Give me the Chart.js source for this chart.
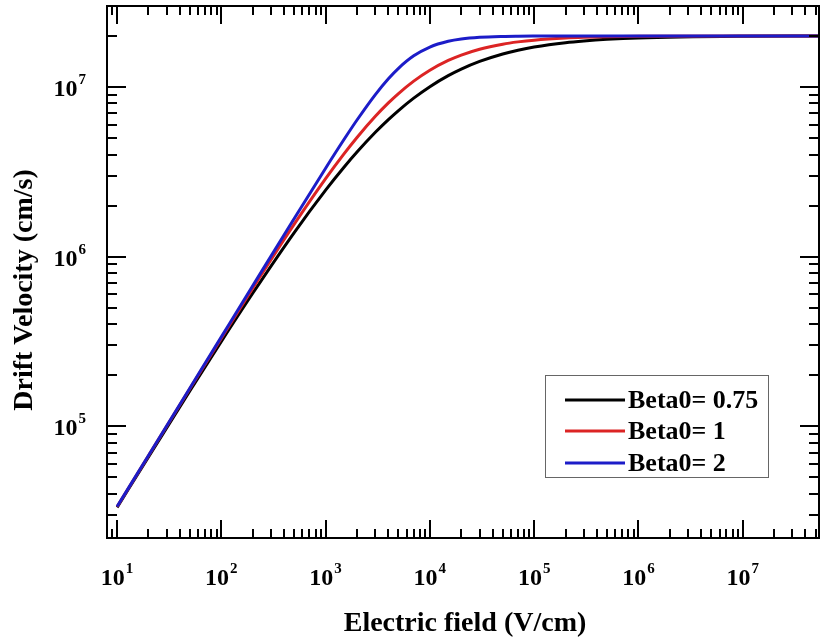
<!DOCTYPE html>
<html>
<head>
<meta charset="utf-8">
<script src="https://cdn.jsdelivr.net/npm/chart.js@4.4.0/dist/chart.umd.min.js"></script>
<style>
  html, body { margin: 0; padding: 0; background: #fff; }
</style>
</head>
<body>
<canvas id="driftChart" width="827" height="641"></canvas>
<script>
  // Electric field (V/cm) and drift velocity (cm/s)
  const fieldValues = [10, 20, 50, 100, 200, 500, 1000, 1500, 2000, 3000, 4000, 5000, 7000,
    1e4, 1.5e4, 2e4, 3e4, 5e4, 7e4, 1e5, 2e5, 3e5, 5e5, 1e6, 1e7, 5.5e7];
  const velocityBeta075 = [33330, 66160, 162450, 317080, 609280, 1.388e6, 2.468e6, 3.366e6, 4.136e6,
    5.405e6, 6.422e6, 7.265e6, 8.598e6, 1.0045e7, 1.1659e7, 1.2745e7, 1.4144e7, 1.5645e7, 1.6463e7,
    1.719e7, 1.8243e7, 1.8675e7, 1.9081e7, 1.9441e7, 1.9898e7, 1.9972e7];
  const velocityBeta1 = [33640, 67170, 167090, 331420, 652030, 1.554e6, 2.884e6, 4.035e6, 5.041e6,
    6.715e6, 8.052e6, 9.145e6, 1.0824e7, 1.2551e7, 1.433e7, 1.5423e7, 1.6697e7, 1.7878e7, 1.8437e7,
    1.888e7, 1.9424e7, 1.9612e7, 1.9765e7, 1.9882e7, 1.9988e7, 1.9998e7];
  const velocityBeta2 = [33700, 67400, 168490, 336950, 673620, 1.679e6, 3.323e6, 4.901e6, 6.387e6,
    9.023e6, 1.1178e7, 1.2886e7, 1.5255e7, 1.7199e7, 1.8597e7, 1.9174e7, 1.962e7, 1.9861e7, 1.9929e7,
    1.9966e7, 1.9991e7, 1.9996e7, 1.9999e7, 2e7, 2e7, 2e7];

  const seriesLabels = ['Beta0= 0.75', 'Beta0= 1', 'Beta0= 2'];
  const seriesColors = ['#000000', '#dc2424', '#1c1cc8'];
  const xExponents = [1, 2, 3, 4, 5, 6, 7];
  const yExponents = [5, 6, 7];
  const xTitle = 'Electric field (V/cm)';
  const yTitle = 'Drift Velocity (cm/s)';

  const FONT = '"Liberation Serif", "Times New Roman", serif';

  function toPoints(ys) {
    return fieldValues.map((x, i) => ({ x: x, y: ys[i] }));
  }

  // minor tick values for a log axis between min and max
  function logTicks(min, max) {
    const out = [];
    for (let e = Math.floor(Math.log10(min)); e <= Math.ceil(Math.log10(max)); e++) {
      for (let m = 1; m <= 9; m++) {
        const v = m * Math.pow(10, e);
        if (v >= min && v <= max) out.push({ v: v, major: m === 1 });
      }
    }
    return out;
  }

  function drawPower(ctx, exp, x, y, align) {
    ctx.font = 'bold 24px ' + FONT;
    const wBase = ctx.measureText('10').width;
    ctx.font = 'bold 15px ' + FONT;
    const wExp = ctx.measureText(String(exp)).width + 1;
    const total = wBase + wExp;
    let left = align === 'right' ? x - total : x - total / 2;
    ctx.textAlign = 'left';
    ctx.textBaseline = 'alphabetic';
    ctx.font = 'bold 24px ' + FONT;
    ctx.fillText('10', left, y);
    ctx.font = 'bold 15px ' + FONT;
    ctx.fillText(String(exp), left + wBase + 1, y - 12);
  }

  const framePlugin = {
    id: 'frame',
    afterDraw(chart) {
      const ctx = chart.ctx;
      const a = chart.chartArea;
      const xs = chart.scales.x, ys = chart.scales.y;
      ctx.save();
      ctx.strokeStyle = '#000';
      ctx.fillStyle = '#000';

      // inward ticks on all four sides
      ctx.lineWidth = 2;
      ctx.beginPath();
      logTicks(xs.min, xs.max).forEach(t => {
        const px = Math.round(xs.getPixelForValue(t.v));
        const len = t.major ? 18 : 9;
        ctx.moveTo(px, a.bottom); ctx.lineTo(px, a.bottom - len);
        ctx.moveTo(px, a.top); ctx.lineTo(px, a.top + len);
      });
      logTicks(ys.min, ys.max).forEach(t => {
        const py = Math.round(ys.getPixelForValue(t.v));
        const len = t.major ? 19 : 10;
        ctx.moveTo(a.left, py); ctx.lineTo(a.left + len, py);
        ctx.moveTo(a.right, py); ctx.lineTo(a.right - len, py);
      });
      ctx.stroke();

      // frame
      ctx.lineWidth = 2;
      ctx.strokeRect(a.left, a.top, a.right - a.left, a.bottom - a.top);

      // tick labels
      xExponents.forEach(e => {
        drawPower(ctx, e, xs.getPixelForValue(Math.pow(10, e)), 585, 'center');
      });
      yExponents.forEach(e => {
        drawPower(ctx, e, 86, ys.getPixelForValue(Math.pow(10, e)) + 9, 'right');
      });

      // axis titles
      ctx.font = 'bold 28px ' + FONT;
      ctx.textAlign = 'center';
      ctx.textBaseline = 'alphabetic';
      ctx.fillText(xTitle, 465, 631);
      ctx.save();
      ctx.translate(32, 290);
      ctx.rotate(-Math.PI / 2);
      ctx.fillText(yTitle, 0, 0);
      ctx.restore();

      // legend box
      ctx.lineWidth = 1;
      ctx.strokeStyle = '#666';
      ctx.strokeRect(545.5, 375.5, 223, 102);
      ctx.font = 'bold 26px ' + FONT;
      ctx.textAlign = 'left';
      const rows = [400, 431, 463];
      chart.data.datasets.forEach((ds, i) => {
        ctx.strokeStyle = ds.borderColor;
        ctx.lineWidth = 3;
        ctx.beginPath();
        ctx.moveTo(565, rows[i]); ctx.lineTo(625, rows[i]);
        ctx.stroke();
        ctx.fillStyle = '#000';
        ctx.fillText(ds.label, 628, rows[i] + 8);
      });
      ctx.restore();
    }
  };

  new Chart(document.getElementById('driftChart'), {
    type: 'line',
    data: {
      datasets: [
        { label: seriesLabels[0], data: toPoints(velocityBeta075), borderColor: seriesColors[0], order: 3 },
        { label: seriesLabels[1], data: toPoints(velocityBeta1), borderColor: seriesColors[1], order: 2 },
        { label: seriesLabels[2], data: toPoints(velocityBeta2), borderColor: seriesColors[2], order: 1 }
      ]
    },
    options: {
      responsive: false,
      animation: false,
      layout: { padding: { left: 107, right: 8, top: 6, bottom: 103 } },
      elements: {
        point: { radius: 0 },
        line: { borderWidth: 3, cubicInterpolationMode: 'monotone', fill: false }
      },
      scales: {
        x: { type: 'logarithmic', min: 8, max: 5.4e7, display: false },
        y: { type: 'logarithmic', min: 2.2e4, max: 3e7, display: false }
      },
      plugins: {
        legend: { display: false },
        tooltip: { enabled: false }
      }
    },
    plugins: [framePlugin]
  });
</script>
</body>
</html>
